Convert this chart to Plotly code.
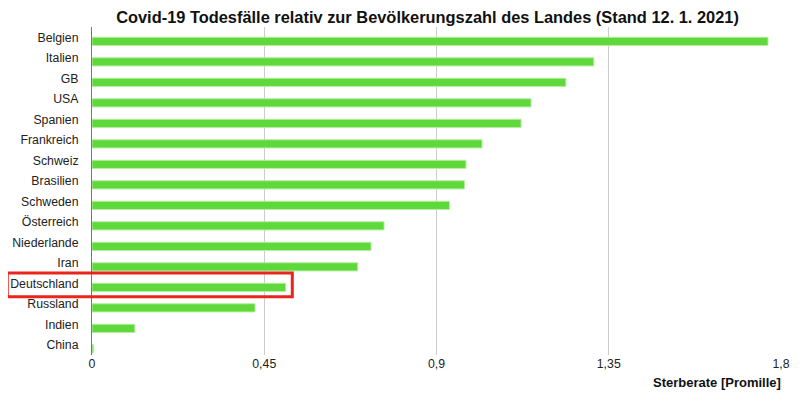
import plotly.graph_objects as go

countries = ["Belgien", "Italien", "GB", "USA", "Spanien", "Frankreich", "Schweiz",
             "Brasilien", "Schweden", "Österreich", "Niederlande", "Iran",
             "Deutschland", "Russland", "Indien", "China"]
rates = [1.766, 1.311, 1.238, 1.147, 1.121, 1.019, 0.977, 0.973, 0.934,
         0.763, 0.729, 0.694, 0.506, 0.426, 0.112, 0.004]
tick_vals = [0, 0.45, 0.9, 1.35, 1.8]
tick_text = ["0", "0,45", "0,9", "1,35", "1,8"]
highlight = "Deutschland"

font = "Liberation Sans, Arial, Helvetica, sans-serif"

fig = go.Figure()
fig.add_trace(go.Bar(
    x=rates, y=countries, orientation="h",
    width=0.4, offset=0,
    marker=dict(color="#5ed83a", line=dict(color="#b5ef9f", width=1)),
    hoverinfo="x+y",
))

hi = countries.index(highlight)
fig.add_shape(type="rect", xref="paper", yref="y",
              x0=-0.123, x1=0.2907, y0=hi - 0.5, y1=hi + 0.66,
              line=dict(color="#e8261c", width=3), fillcolor="rgba(0,0,0,0)")

fig.add_annotation(text="<b>Sterberate [Promille]</b>", xref="paper", yref="paper",
                   x=1.003, y=-0.085, xanchor="right", yanchor="middle", showarrow=False,
                   font=dict(family=font, size=13, color="#111"))

fig.update_layout(
    width=792, height=397,
    margin=dict(l=84, r=19, t=19, b=50, autoexpand=False),
    paper_bgcolor="white", plot_bgcolor="white",
    title=dict(text="<b>Covid-19 Todesfälle relativ zur Bevölkerungszahl des Landes (Stand 12. 1. 2021)</b>",
               x=0.5297, xanchor="center", y=0.977, yanchor="middle",
               font=dict(family=font, size=16.4, color="#111")),
    font=dict(family=font, size=12.3, color="#222"),
    showlegend=False,
    separators=", ",
    xaxis=dict(range=[0, 1.8], tickvals=tick_vals, ticktext=tick_text,
               showgrid=True, gridcolor="#cccccc", gridwidth=1,
               zeroline=False, showline=False, ticks="", automargin=False,
               tickfont=dict(size=12.3, color="#222")),
    yaxis=dict(type="category", range=[15.5, -0.5], categoryorder="array",
               categoryarray=countries, showgrid=False, ticks="", automargin=False,
               showline=True, linecolor="#777777", linewidth=1,
               ticklabelstandoff=10, tickfont=dict(size=12.3, color="#222")),
)

fig.write_html("out.html")
